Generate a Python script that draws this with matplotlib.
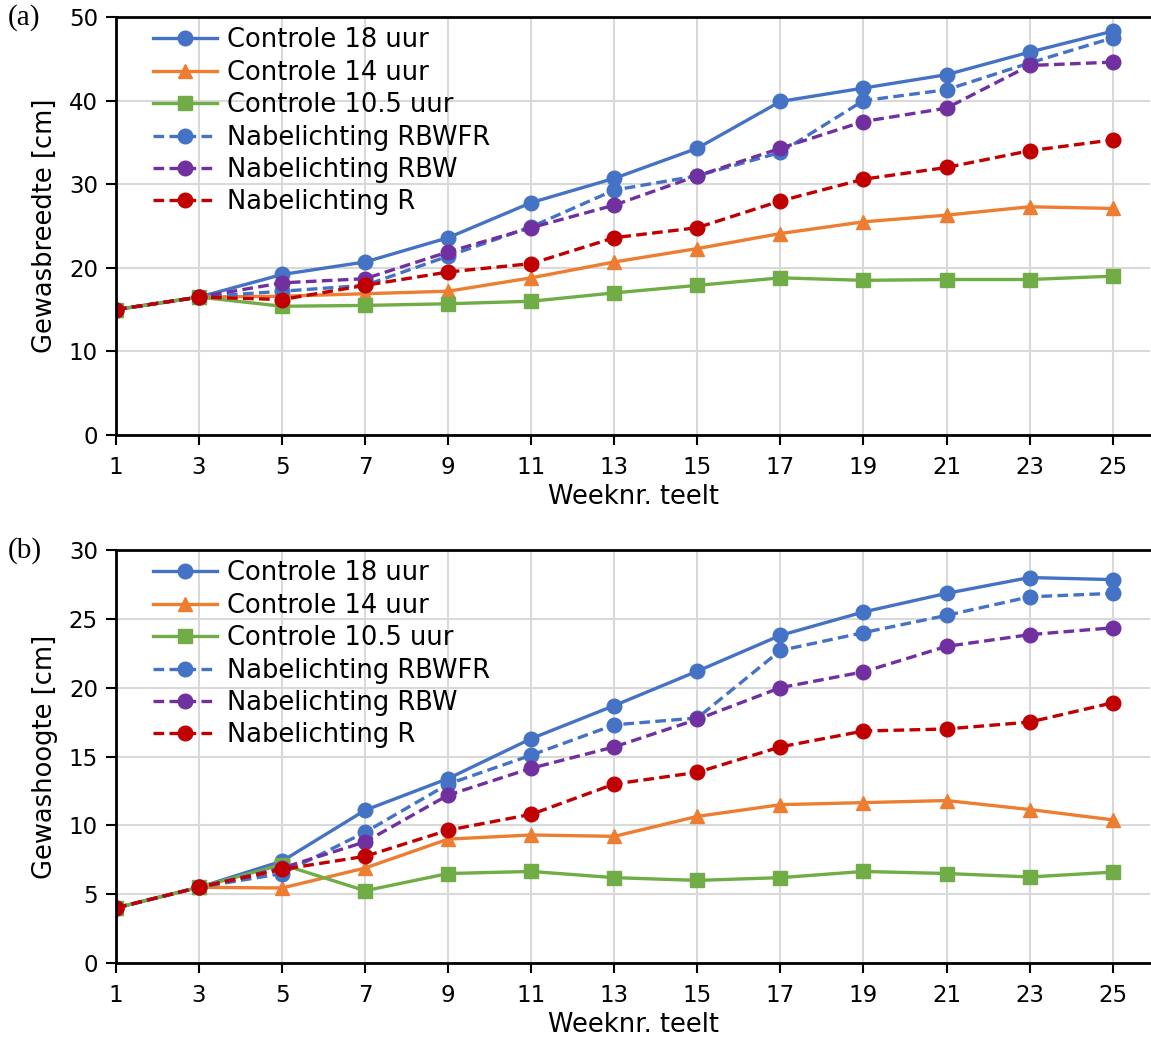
import matplotlib
matplotlib.use("Agg")
import matplotlib.pyplot as plt

weeks = [1, 3, 5, 7, 9, 11, 13, 15, 17, 19, 21, 23, 25]

labels = ["Controle 18 uur", "Controle 14 uur", "Controle 10.5 uur",
          "Nabelichting RBWFR", "Nabelichting RBW", "Nabelichting R"]

# gewasbreedte [cm]
breedte_c18 = [15.0, 16.5, 19.2, 20.7, 23.6, 27.8, 30.7, 34.3, 39.9, 41.5, 43.1, 45.8, 48.3]
breedte_c14 = [15.0, 16.5, 16.6, 16.9, 17.2, 18.8, 20.7, 22.3, 24.1, 25.5, 26.3, 27.3, 27.1]
breedte_c105 = [15.0, 16.5, 15.4, 15.5, 15.7, 16.0, 17.0, 17.9, 18.8, 18.5, 18.6, 18.6, 19.0]
breedte_rbwfr = [15.0, 16.5, 17.2, 17.9, 21.4, 24.9, 29.3, 31.0, 33.8, 40.0, 41.3, 44.5, 47.5]
breedte_rbw = [15.0, 16.5, 18.2, 18.7, 21.9, 24.8, 27.5, 31.0, 34.3, 37.5, 39.1, 44.2, 44.6]
breedte_r = [15.0, 16.5, 16.2, 17.9, 19.5, 20.5, 23.6, 24.8, 28.0, 30.6, 32.0, 34.0, 35.3]

# gewashoogte [cm]
hoogte_c18 = [4.0, 5.5, 7.4, 11.1, 13.4, 16.3, 18.7, 21.2, 23.8, 25.5, 26.85, 28.0, 27.85]
hoogte_c14 = [4.0, 5.5, 5.45, 6.9, 9.0, 9.3, 9.2, 10.65, 11.5, 11.65, 11.8, 11.15, 10.4]
hoogte_c105 = [4.0, 5.5, 7.15, 5.25, 6.5, 6.65, 6.2, 6.0, 6.2, 6.65, 6.5, 6.25, 6.6]
hoogte_rbwfr = [4.0, 5.5, 6.5, 9.5, 13.0, 15.1, 17.3, 17.8, 22.7, 24.0, 25.25, 26.6, 26.85]
hoogte_rbw = [4.0, 5.5, 6.9, 8.8, 12.2, 14.15, 15.7, 17.7, 20.0, 21.15, 23.0, 23.85, 24.35]
hoogte_r = [4.0, 5.5, 6.8, 7.75, 9.65, 10.8, 13.0, 13.85, 15.7, 16.85, 17.0, 17.5, 18.9]

colors = ["#4472C4", "#ED7D31", "#70AD47", "#4472C4", "#7030A0", "#C00000"]
markers = ["o", "^", "s", "o", "o", "o"]
styles = ["-", "-", "-", "--", "--", "--"]

W, H = 1151, 1041
fig = plt.figure(figsize=(W / 100, H / 100), dpi=100)


def draw_panel(ax, series, ymax, ystep, ylabel, tag, tag_y):
    for vals, lab, c, m, ls in zip(series, labels, colors, markers, styles):
        line, = ax.plot(weeks, vals, color=c, marker=m, linestyle=ls, lw=2.4,
                        markersize=10.5 if m != "s" else 9.5, label=lab)
        if ls == "--":
            line.set_dashes((3.2, 1.6))

    ax.set_xlim(1, 25.9)
    ax.set_ylim(0, ymax)
    ax.set_xticks(weeks)
    ax.set_yticks(range(0, ymax + 1, ystep))
    ax.grid(True, color="#d9d9d9", lw=1.5)
    ax.set_axisbelow(True)
    ax.spines["right"].set_visible(False)
    for s in ["left", "bottom", "top"]:
        ax.spines[s].set_linewidth(2)
    ax.tick_params(direction="out", length=7, width=1.5, labelsize=16.5)
    ax.tick_params(axis="x", pad=8)
    ax.tick_params(axis="y", pad=6)
    ax.set_xlabel("Weeknr. teelt", fontsize=18.5, labelpad=4)
    ax.set_ylabel(ylabel, fontsize=18.5, labelpad=8)
    ax.legend(loc="upper left", bbox_to_anchor=(0.0255, 1.0), frameon=False,
              fontsize=18.5, handlelength=2.5, handletextpad=0.4,
              labelspacing=0.25, borderaxespad=0)
    fig.text(8 / W, 1 - tag_y / H, tag, fontsize=21, family="Liberation Serif",
             va="center", ha="left")


ax1 = fig.add_axes([116 / W, 1 - 435 / H, (1150 - 116) / W, (435 - 17) / H])
draw_panel(ax1, [breedte_c18, breedte_c14, breedte_c105, breedte_rbwfr, breedte_rbw, breedte_r],
           50, 10, "Gewasbreedte [cm]", "(a)", 18)

ax2 = fig.add_axes([116 / W, 1 - 963 / H, (1150 - 116) / W, (963 - 550) / H])
draw_panel(ax2, [hoogte_c18, hoogte_c14, hoogte_c105, hoogte_rbwfr, hoogte_rbw, hoogte_r],
           30, 5, "Gewashoogte [cm]", "(b)", 551)

fig.savefig("out.png", dpi=100)
